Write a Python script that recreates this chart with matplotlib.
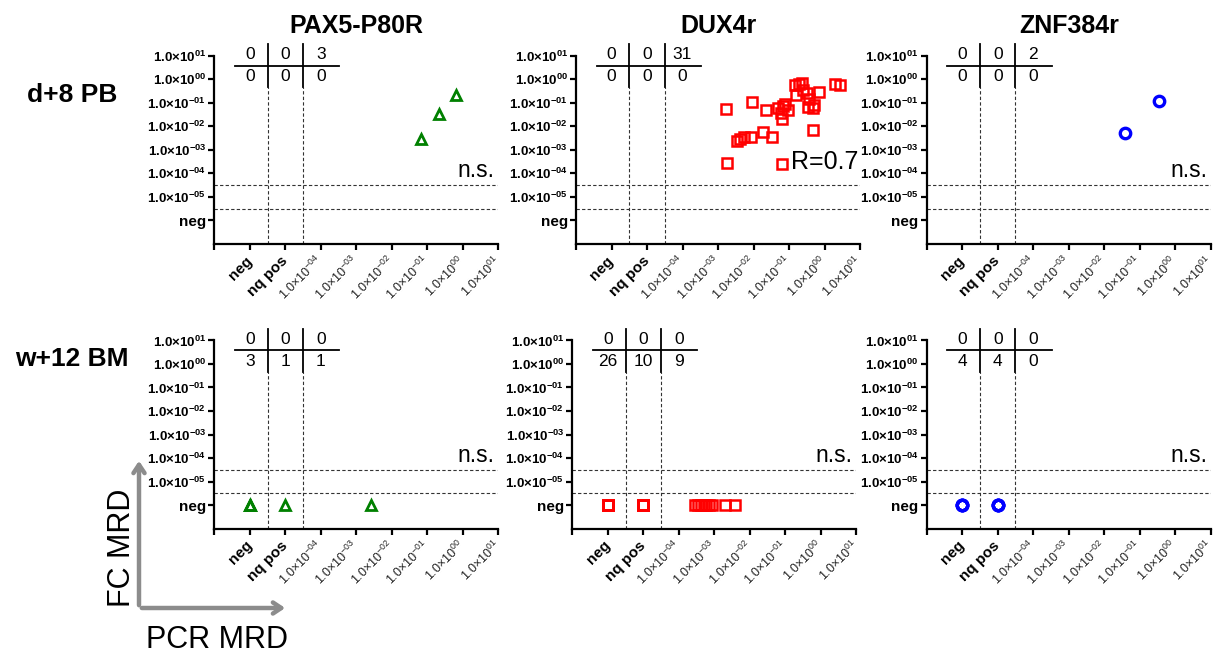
import numpy as np
import matplotlib.pyplot as plt

plt.rcParams['font.family'] = ['Liberation Sans', 'DejaVu Sans']
plt.rcParams['mathtext.fontset'] = 'custom'
plt.rcParams['mathtext.rm'] = 'Liberation Sans'
plt.rcParams['mathtext.bf'] = 'Liberation Sans:bold'
plt.rcParams['mathtext.default'] = 'regular'

# MRD values per panel: 'neg' = negative, 'nq' = positive not quantifiable
genes = ['PAX5-P80R', 'DUX4r', 'ZNF384r']
timepoints = ['d+8 PB', 'w+12 BM']

pax5_d8_pcr = [6.5e-2, 2.1e-1, 6.5e-1]
pax5_d8_fc = [2.8e-3, 3.5e-2, 2.1e-1]

dux4_d8_pcr = [1.7e-3, 1.8e-3, 3.5e-3, 4.2e-3, 5.4e-3, 8.3e-3, 9.3e-3, 1.8e-2,
               2.2e-2, 3.4e-2, 4.9e-2, 5.9e-2, 6.3e-2, 6.2e-2, 6.9e-2, 9.5e-2,
               7.8e-2, 1.5e-1, 1.6e-1, 1.9e-1, 2.4e-1, 2.5e-1, 3.2e-1, 3.6e-1,
               3.4e-1, 4.7e-1, 5.0e-1, 4.7e-1, 6.8e-1, 2.0, 2.8]
dux4_d8_fc = [5.4e-2, 2.8e-4, 2.4e-3, 2.8e-3, 3.4e-3, 3.4e-3, 1.1e-1, 5.5e-3,
              5.1e-2, 3.5e-3, 5.8e-2, 3.7e-2, 2.1e-2, 2.5e-4, 7.2e-2, 4.9e-2,
              9.3e-2, 5.6e-1, 2.1e-1, 6.2e-1, 6.6e-1, 3.4e-1, 2.5e-1, 1.5e-1,
              6.8e-2, 5.8e-2, 7.9e-2, 6.9e-3, 2.9e-1, 6.2e-1, 5.6e-1]

znf384_d8_pcr = [3.9e-2, 3.5e-1]
znf384_d8_fc = [5.0e-3, 1.2e-1]

pax5_w12_pcr = ['neg'] * 3 + ['nq'] + [2.6e-3]
pax5_w12_fc = ['neg'] * 5

dux4_w12_pcr = (['neg'] * 26 + ['nq'] * 10 +
                [2.9e-4, 3.5e-4, 4.2e-4, 5.0e-4, 6.0e-4, 7.2e-4, 8.5e-4, 2.0e-3, 3.9e-3])
dux4_w12_fc = ['neg'] * 45

znf384_w12_pcr = ['neg'] * 4 + ['nq'] * 4
znf384_w12_fc = ['neg'] * 8

panel_data = [
    [(pax5_d8_pcr, pax5_d8_fc), (dux4_d8_pcr, dux4_d8_fc), (znf384_d8_pcr, znf384_d8_fc)],
    [(pax5_w12_pcr, pax5_w12_fc), (dux4_w12_pcr, dux4_w12_fc), (znf384_w12_pcr, znf384_w12_fc)],
]
stats = [['n.s.', 'R=0.7', 'n.s.'], ['n.s.', 'n.s.', 'n.s.']]
styles = [dict(marker='^', color='#008000', ms=7.5, mew=2.0),
          dict(marker='s', color='#ff0000', ms=7.5, mew=1.8),
          dict(marker='o', color='#0000ff', ms=7.5, mew=2.4)]

exps = ['-05', '-04', '-03', '-02', '-01', '00', '01']
ylabels = ['neg'] + [r'1.0×10$^{\mathbf{%s}}$' % e for e in exps]
xlabels = ['', 'neg', 'nq pos'] + [r'1.0×10$^{%s}$' % e for e in exps[1:]]


def to_pos(v):
    # category axis: neg=1, nq pos=2, then one step per decade (1e-4 -> 3)
    if v == 'neg':
        return 1.0
    if v == 'nq':
        return 2.0
    return np.log10(v) + 7


fig = plt.figure(figsize=(12.15, 6.58), dpi=100)
W, H = 1215, 658
lefts = [[214.3, 576, 926.7], [214.3, 572.3, 926.7]]
tops = [55.7, 340.4]
aw, ah = 284, 188.3

for r in range(2):
    for c in range(3):
        ax = fig.add_axes([lefts[r][c] / W, 1 - (tops[r] + ah) / H, aw / W, ah / H])
        pcr, fc = panel_data[r][c]
        xs = [to_pos(v) for v in pcr]
        ys = [to_pos(v) for v in fc]
        st = styles[c]
        ax.plot(xs, ys, ls='none', marker=st['marker'], ms=st['ms'], mew=st['mew'],
                mfc='none', mec=st['color'], zorder=5)

        # quadrant guides
        for xv in [1.5, 2.5]:
            ax.plot([xv, xv], [0, 6.65], ls=(0, (3, 2)), lw=0.8, color='#333333')
            ax.plot([xv, xv], [6.65, 8.5], lw=1.3, color='black', clip_on=False)
        for yv in [1.5, 2.5]:
            ax.plot([0, 8], [yv, yv], ls=(0, (3, 2)), lw=0.8, color='#333333')
        ax.plot([0.58, 3.52], [7.58, 7.58], lw=1.3, color='black')

        # 2x3 count table: rows FC pos / neg, columns PCR neg / nq / pos
        cats = ['neg' if p == 'neg' else 'nq' if p == 'nq' else 'pos' for p in pcr]
        for k, cat in enumerate(['neg', 'nq', 'pos']):
            top = sum(1 for cc, f in zip(cats, fc) if cc == cat and f != 'neg')
            bot = sum(1 for cc, f in zip(cats, fc) if cc == cat and f == 'neg')
            ax.text(k + 1, 8.05, str(top), ha='center', va='center', fontsize=12.5, clip_on=False)
            ax.text(k + 1, 7.12, str(bot), ha='center', va='center', fontsize=12.5)

        s = stats[r][c]
        if s.startswith('R'):
            ax.text(7.95, 3.2, s, ha='right', va='baseline', fontsize=18)
        else:
            ax.text(7.9, 2.85, s, ha='right', va='baseline', fontsize=16.5)

        ax.set_xlim(0, 8)
        ax.set_ylim(0, 8)
        ax.spines['top'].set_visible(False)
        ax.spines['right'].set_visible(False)
        ax.spines['left'].set_linewidth(1.6)
        ax.spines['bottom'].set_linewidth(1.6)
        ax.set_xticks(range(9))
        ax.set_xticklabels(xlabels, rotation=45, ha='right', va='center',
                           rotation_mode='anchor', fontsize=9, color='#222222')
        ax.set_yticks(range(1, 9))
        ax.set_yticklabels(ylabels, fontsize=9.5, fontweight='bold')
        ax.tick_params(axis='both', length=4.5, width=1.6, pad=1.5)
        ax.tick_params(axis='x', pad=6)
        for lbl in ax.get_xticklabels():
            if lbl.get_text() in ('neg', 'nq pos'):
                lbl.set_fontsize(11)
                lbl.set_fontweight('bold')
                lbl.set_color('black')
        for lbl in ax.get_yticklabels():
            if lbl.get_text() == 'neg':
                lbl.set_fontsize(11)

        if r == 0:
            ax.set_title(genes[c], fontsize=18, fontweight='bold', pad=16)

for r, tp in enumerate(timepoints):
    fig.text(72 / W, 1 - [95, 359][r] / H, tp, ha='center', va='center',
             fontsize=19, fontweight='bold')

# orientation arrows
ox, oy = 139 / W, 1 - 608 / H
arrow = dict(arrowstyle='->,head_length=0.6,head_width=0.4', color='#8c8c8c', lw=3.2)
plt.annotate('', xy=(ox, 1 - 458 / H), xytext=(ox, oy), xycoords='figure fraction',
             arrowprops=arrow)
plt.annotate('', xy=(288 / W, oy), xytext=(ox, oy), xycoords='figure fraction',
             arrowprops=arrow)
fig.text(122 / W, 1 - 548 / H, 'FC MRD', rotation=90, ha='center', va='center', fontsize=22)
fig.text(217 / W, 1 - 640 / H, 'PCR MRD', ha='center', va='center', fontsize=22)

fig.savefig('out.png', dpi=100)
